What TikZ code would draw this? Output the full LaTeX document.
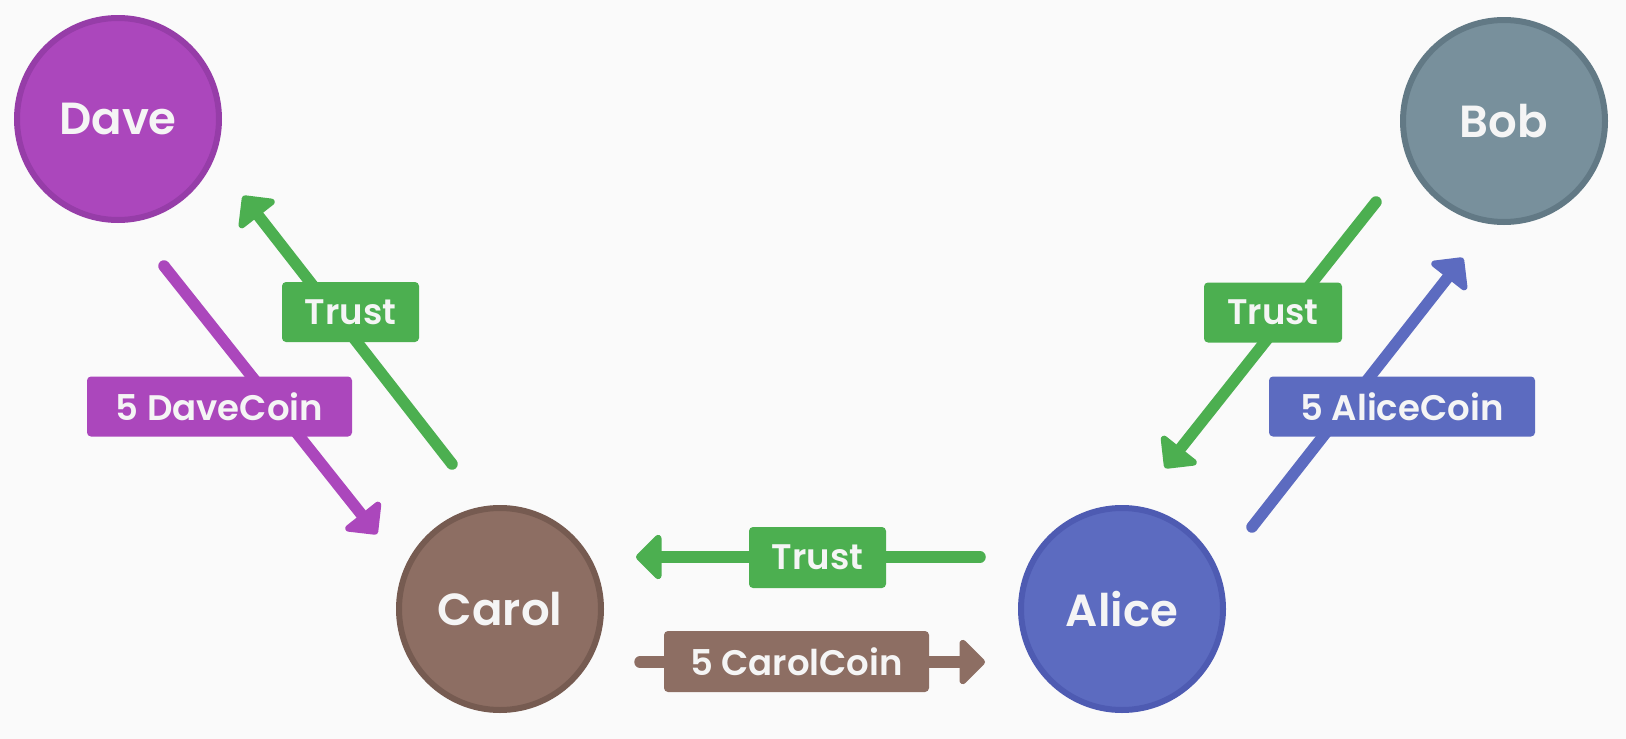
\documentclass[tikz,border=0pt]{standalone}
\usepackage{fontspec}
\setmainfont{Poppins}[BoldFont={Poppins SemiBold}]
\usetikzlibrary{arrows.meta}
\definecolor{bg}{HTML}{FAFAFA}
\definecolor{txt}{HTML}{F5F5F5}
\definecolor{purp}{HTML}{AB47BC}
\definecolor{purpD}{HTML}{963DA8}
\definecolor{grey}{HTML}{78909C}
\definecolor{greyD}{HTML}{627985}
\definecolor{brown}{HTML}{8D6E63}
\definecolor{brownD}{HTML}{765B51}
\definecolor{indi}{HTML}{5C6BC0}
\definecolor{indiD}{HTML}{4E5BB2}
\definecolor{grn}{HTML}{4CAF50}
\begin{document}
\begin{tikzpicture}[x=1pt,y=-1pt,
  person/.style={circle, minimum size=202pt, line width=6pt, inner sep=0pt, text=txt,
    font=\fontsize{45}{48}\selectfont\bfseries},
  lab/.style={rounded corners=4pt, minimum height=60pt, inner sep=0pt, text=txt,
    font=\fontsize{35.5}{38}\selectfont\bfseries},
  conn/.style={line width=11.5pt, line cap=round, -{Triangle[length=27pt,width=52pt,round]}},
]
\fill[bg] (0,0) rectangle (1626,739);
\useasboundingbox (0,0) rectangle (1626,739);

\node[person, fill=purp, draw=purpD] (dave) at (118,119) {Dave};
\node[person, fill=grey, draw=greyD] (bob) at (1504,121) {Bob};
\node[person, fill=brown, draw=brownD] (carol) at (500,609) {Carol};
\node[person, fill=indi, draw=indiD] (alice) at (1122,609) {Alice};

\coordinate (dcS) at (164,266);  \coordinate (dcE) at (377,534);
\coordinate (tdS) at (452,464);  \coordinate (tdE) at (243,196);
\coordinate (tbS) at (1376,202); \coordinate (tbE) at (1165,468);
\coordinate (acS) at (1252,527); \coordinate (acE) at (1463,258);
\coordinate (taS) at (980,557);  \coordinate (taE) at (636,557);
\coordinate (ccS) at (640,662);  \coordinate (ccE) at (985,662);

\draw[conn, purp] (dcS) -- (dcE);
\draw[conn, grn] (tdS) -- (tdE);
\draw[conn, grn] (tbS) -- (tbE);
\draw[conn, indi] (acS) -- (acE);
\draw[conn, grn] (taS) -- (taE);
\draw[conn, brown] (ccS) -- (ccE);

\node[lab, fill=grn, minimum width=137pt] (trustD) at (350.5,312) {Trust};
\node[lab, fill=purp, minimum width=265pt] (daveCoin) at (219.5,406.5) {5 DaveCoin};
\node[lab, fill=grn, minimum width=138pt] (trustB) at (1273,312.5) {Trust};
\node[lab, fill=indi, minimum width=266pt] (aliceCoin) at (1402,406.5) {5 AliceCoin};
\node[lab, fill=grn, minimum width=137pt, minimum height=61pt] (trustA) at (817.5,557.5) {Trust};
\node[lab, fill=brown, minimum width=265pt, minimum height=61pt] (carolCoin) at (796.5,661.5) {5 CarolCoin};
\end{tikzpicture}
\end{document}
